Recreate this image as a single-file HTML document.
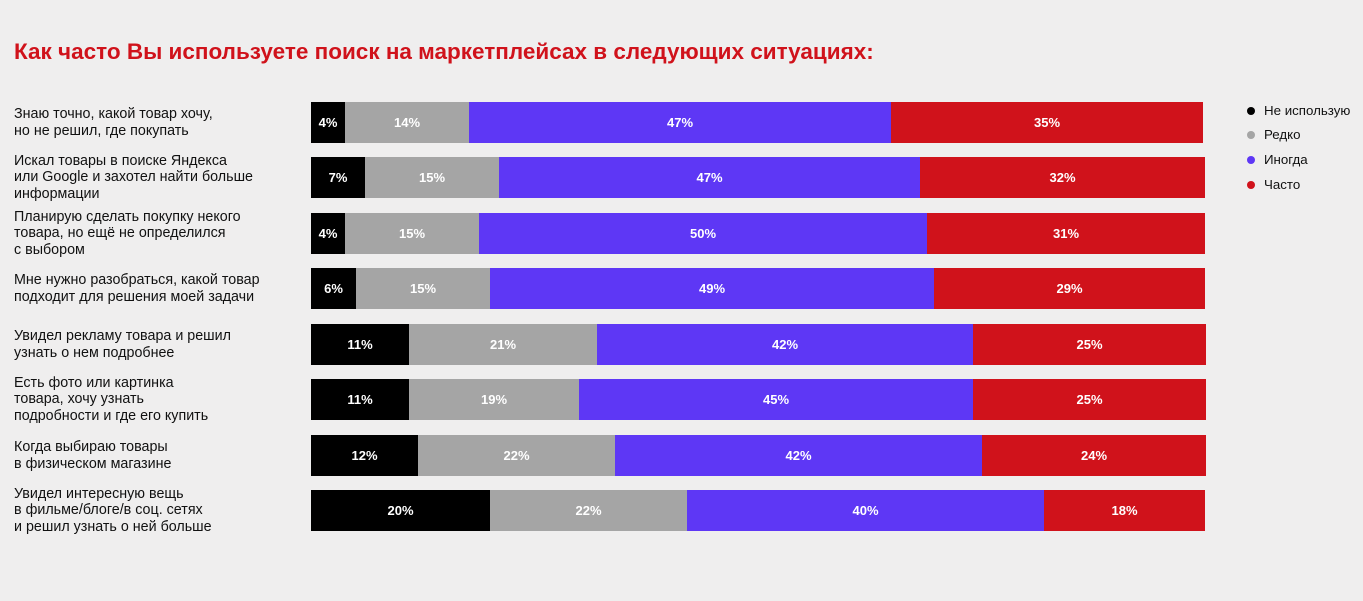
<!DOCTYPE html>
<html><head><meta charset="utf-8"><style>
body{margin:0;width:1363px;height:601px;background:#efeeee;position:relative;overflow:hidden;font-family:"Liberation Sans",Arial,sans-serif}
.t{position:absolute;left:14px;top:39px;font-size:22.5px;font-weight:bold;color:#d0121b;white-space:nowrap}
.lab{position:absolute;left:14px;width:295px;height:41px;display:flex;align-items:center;font-size:14.3px;line-height:16.5px;color:#111}
.bar{position:absolute;height:41px;display:flex;align-items:center;justify-content:center;color:#fff;font-weight:bold;font-size:13px}
.k{background:#000}.g{background:#a5a5a5}.b{background:#5e37f5}.r{background:#d0121b}
.lg{position:absolute;left:1247px;font-size:13.3px;color:#111}
.lg i{display:inline-block;width:8px;height:8px;border-radius:50%;margin-right:9px;vertical-align:0}
</style></head><body>
<div class="t">Как часто Вы используете поиск на маркетплейсах в следующих ситуациях:</div>
<div class="lg" style="top:103px"><i style="background:#000"></i>Не использую</div>
<div class="lg" style="top:127px"><i style="background:#a5a5a5"></i>Редко</div>
<div class="lg" style="top:152px"><i style="background:#5e37f5"></i>Иногда</div>
<div class="lg" style="top:177px"><i style="background:#d0121b"></i>Часто</div>
<div id="c"></div>
<script>
var rows=[
["Знаю точно, какой товар хочу,<br>но не решил, где покупать",102,[345,469,891,1203],[4,14,47,35]],
["Искал товары в поиске Яндекса<br>или Google и захотел найти больше<br>информации",157,[365,499,920,1205],[7,15,47,32]],
["Планирую сделать покупку некого<br>товара, но ещё не определился<br>с выбором",213,[345,479,927,1205],[4,15,50,31]],
["Мне нужно разобраться, какой товар<br>подходит для решения моей задачи",268,[356,490,934,1205],[6,15,49,29]],
["Увидел рекламу товара и решил<br>узнать о нем подробнее",324,[409,597,973,1206],[11,21,42,25]],
["Есть фото или картинка<br>товара, хочу узнать<br>подробности и где его купить",379,[409,579,973,1206],[11,19,45,25]],
["Когда выбираю товары<br>в физическом магазине",435,[418,615,982,1206],[12,22,42,24]],
["Увидел интересную вещь<br>в фильме/блоге/в соц. сетях<br>и решил узнать о ней больше",490,[490,687,1044,1205],[20,22,40,18]]];
var cls=["k","g","b","r"],h="";
rows.forEach(function(r){
h+='<div class="lab" style="top:'+r[1]+'px"><div>'+r[0]+'</div></div>';
var x=311;
for(var i=0;i<4;i++){h+='<div class="bar '+cls[i]+'" style="top:'+r[1]+'px;left:'+x+'px;width:'+(r[2][i]-x)+'px">'+r[3][i]+'%</div>';x=r[2][i];}
});
document.getElementById("c").innerHTML=h;
</script>
</body></html>
